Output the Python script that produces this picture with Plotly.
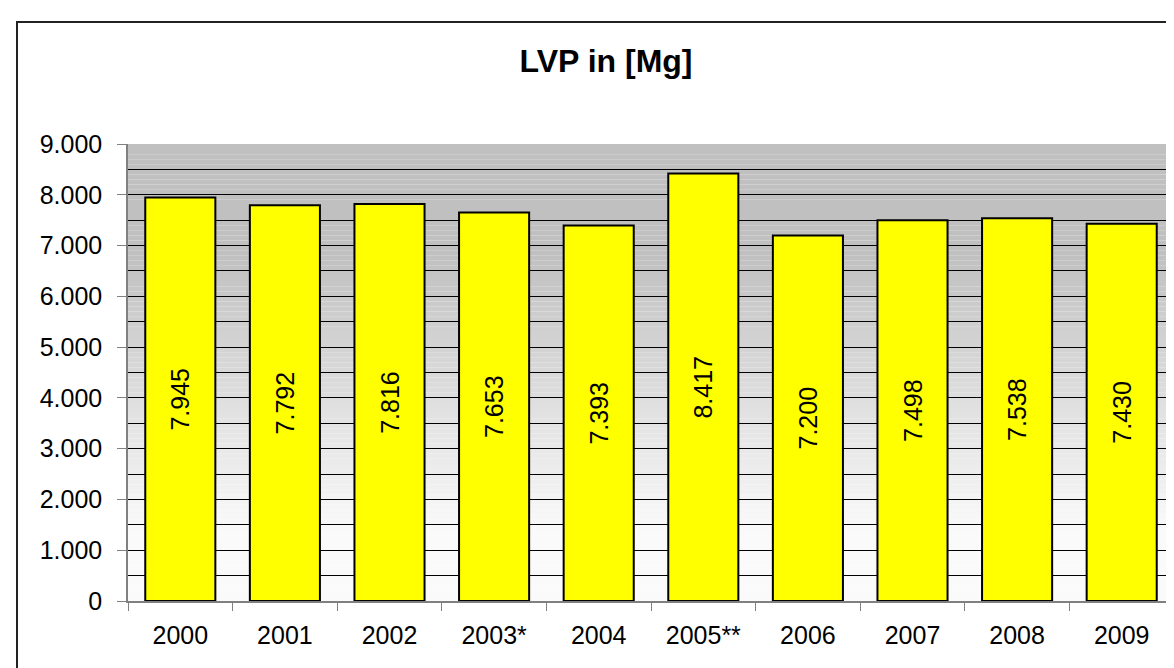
import plotly.graph_objects as go

categories = ["2000", "2001", "2002", "2003*", "2004", "2005**", "2006", "2007", "2008", "2009"]
values = [7945, 7792, 7816, 7653, 7393, 8417, 7200, 7498, 7538, 7430]
y_ticks = [0, 1000, 2000, 3000, 4000, 5000, 6000, 7000, 8000, 9000]
title_text = "LVP in [Mg]"

FONT = "Arial, Liberation Sans, sans-serif"

fig = go.Figure()
fig.add_trace(go.Bar(
    x=categories,
    y=values,
    marker=dict(color="#ffff00", line=dict(color="#000000", width=2)),
    texttemplate="%{y:,d}",
    textposition="inside",
    insidetextanchor="middle",
    textangle=-90,
    textfont=dict(family=FONT, size=25, color="#000000"),
    hoverinfo="x+y",
))

# gradient background strips: flat grey at top, fading to near-white lower down
TOP_PX, BOT_PX = 136, 593
shapes = []
n = 90
for i in range(n):
    y0p = TOP_PX + (BOT_PX - TOP_PX) * i / n
    y1p = TOP_PX + (BOT_PX - TOP_PX) * (i + 1) / n
    mid = (y0p + y1p) / 2
    c = 192 + (mid - 245) * (250 - 192) / (525 - 245)
    c = int(round(max(192, min(250, c))))
    shapes.append(dict(type="rect", xref="paper", yref="paper",
                       x0=0, x1=1,
                       y0=(BOT_PX - y1p) / (BOT_PX - TOP_PX),
                       y1=(BOT_PX - y0p) / (BOT_PX - TOP_PX),
                       fillcolor=f"rgb({c},{c},{c})", line=dict(width=0),
                       layer="below"))

# outer chart border (extends beyond the visible area right and bottom)
shapes.append(dict(type="rect", xref="paper", yref="paper",
                   x0=(9 - 120) / 1046, x1=(1190 - 120) / 1046,
                   y0=(593 - 690) / 457, y1=(593 - 14) / 457,
                   line=dict(color="#222222", width=2), fillcolor="rgba(0,0,0,0)",
                   layer="above"))

fig.update_layout(
    width=1174, height=668,
    margin=dict(l=120, r=8, t=136, b=75, pad=0),
    paper_bgcolor="#ffffff",
    plot_bgcolor="#ffffff",
    separators=",.",
    showlegend=False,
    bargap=0.33,
    shapes=shapes,
    title=dict(text="<b>" + title_text + "</b>", x=598 / 1174, xanchor="center",
               xref="container", y=1 - 53 / 668, yanchor="middle", yref="container",
               font=dict(family=FONT, size=32, color="#000000")),
    xaxis=dict(
        showgrid=False,
        showline=True, linecolor="#808080", linewidth=1.5,
        ticks="outside", tickson="boundaries", ticklen=8, tickcolor="#808080", tickwidth=1.2,
        tickfont=dict(family=FONT, size=25, color="#000000"),
        ticklabelstandoff=11,
    ),
    yaxis=dict(
        range=[0, 9000],
        tickvals=y_ticks,
        tickformat=",d",
        showgrid=True, gridcolor="#000000", gridwidth=1,
        minor=dict(dtick=500, showgrid=True, gridcolor="#000000", gridwidth=1, ticks=""),
        showline=True, linecolor="#808080", linewidth=1.5,
        ticks="outside", ticklen=9, tickcolor="#808080", tickwidth=1.2,
        tickfont=dict(family=FONT, size=25, color="#000000"),
        zeroline=False,
        ticklabelstandoff=10,
    ),
)

fig.write_html("out.html")
